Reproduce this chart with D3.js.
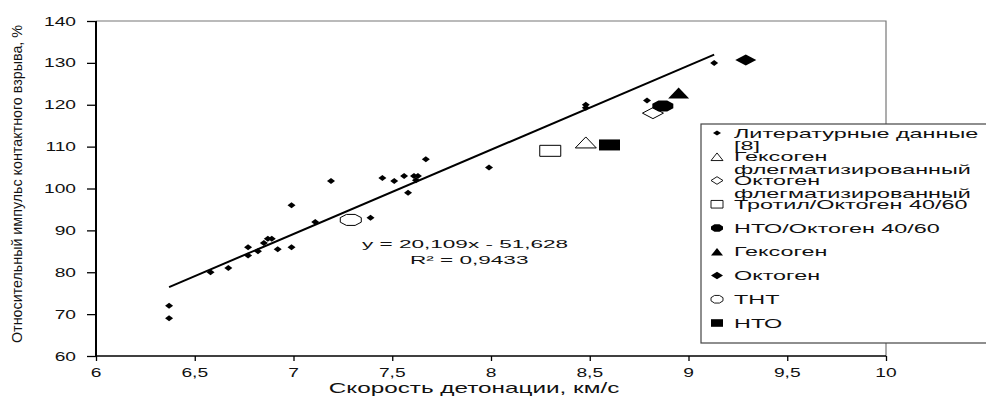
<!DOCTYPE html>
<html>
<head>
<meta charset="utf-8">
<script src="https://cdn.jsdelivr.net/npm/d3@7"></script>
<style>
  body { margin: 0; background: #fff; }
  svg { display: block; }
  text { font-family: "Liberation Sans", Arial, sans-serif; fill: #111; }
</style>
</head>
<body>
<svg id="chart" width="986" height="399"></svg>
<script>
// literature data [8]
const litX = [6.37, 6.37, 6.58, 6.67, 6.77, 6.77, 6.82, 6.85, 6.87, 6.89, 6.92, 6.99, 6.99, 7.11, 7.19,
  7.39, 7.45, 7.51, 7.56, 7.58, 7.61, 7.62, 7.63, 7.67, 7.99, 8.48, 8.48, 8.79, 9.13];
const litY = [72, 69, 80, 81, 86, 84, 85, 87, 88, 88, 85.5, 86, 96, 92, 101.8,
  93, 102.5, 101.8, 103, 99, 103, 102, 103, 107, 105, 120, 119.3, 121, 130];

// measured explosives
const expNames = ["Гексоген флегматизированный", "Октоген флегматизированный", "Тротил/Октоген 40/60",
  "НТО/Октоген 40/60", "Гексоген", "Октоген", "ТНТ", "НТО"];
const expX = [8.48, 8.82, 8.30, 8.87, 8.95, 9.29, 7.29, 8.60];
const expY = [111, 118, 109, 119.7, 122.8, 130.7, 92.5, 110.4];
const expShape = ["triangle", "diamond", "square", "circle", "triangle", "diamond", "circle", "square"];
const expFilled = [false, false, false, true, true, true, false, true];

// trend line y = 20,109x - 51,628
const slope = 20.109, intercept = -51.628, r2 = 0.9433;

const xTicks = [6, 6.5, 7, 7.5, 8, 8.5, 9, 9.5, 10];
const yTicks = [60, 70, 80, 90, 100, 110, 120, 130, 140];

const legendLines = [
  ["Литературные данные", "[8]"],
  ["Гексоген", "флегматизированный"],
  ["Октоген", "флегматизированный"],
  ["Тротил/Октоген 40/60"],
  ["НТО/Октоген 40/60"],
  ["Гексоген"],
  ["Октоген"],
  ["ТНТ"],
  ["НТО"]
];

const svg = d3.select("#chart");
const pLeft = 96, pRight = 886, pTop = 21, pBottom = 356;

const x = d3.scaleLinear().domain([6, 10]).range([pLeft, pRight]);
const y = d3.scaleLinear().domain([60, 140]).range([pBottom, pTop]);

// stretched text helper (the source figure is wide-stretched)
function stext(g, tx, ty, str, size, sx, anchor) {
  return g.append("text")
    .attr("transform", `translate(${tx},${ty}) scale(${sx},1)`)
    .attr("font-size", size)
    .attr("text-anchor", anchor || "start")
    .text(str);
}

// marker path, w/h are half sizes
function marker(shape, w, h) {
  if (shape === "diamond") return `M0,${-h}L${w},0L0,${h}L${-w},0Z`;
  if (shape === "square") return `M${-w},${-h}H${w}V${h}H${-w}Z`;
  if (shape === "triangle") return `M0,${-h}L${w},${h}H${-w}Z`;
  // octagon-ish ellipse
  const pts = d3.range(8).map(i => {
    const a = Math.PI / 8 + i * Math.PI / 4;
    return [w * Math.cos(a) / Math.cos(Math.PI / 8), h * Math.sin(a) / Math.cos(Math.PI / 8)];
  });
  return "M" + pts.map(p => p.join(",")).join("L") + "Z";
}

// frame (top / right in gray)
svg.append("path")
  .attr("d", `M${pLeft},${pTop}H${pRight}V${pBottom}`)
  .attr("fill", "none")
  .attr("stroke", "#777")
  .attr("stroke-width", 1.2);

// axes
const yAxis = svg.append("g")
  .attr("transform", `translate(${pLeft},0)`)
  .call(d3.axisLeft(y).tickValues(yTicks).tickSize(9).tickFormat(""));
yAxis.select(".domain").attr("stroke-width", 2).attr("d", `M0,${pTop}V${pBottom}`);
yAxis.selectAll(".tick line").attr("stroke-width", 1.3);

const xAxis = svg.append("g")
  .attr("transform", `translate(0,${pBottom})`)
  .call(d3.axisBottom(x).tickValues(xTicks).tickSize(5).tickFormat(""));
xAxis.select(".domain").attr("stroke-width", 1.6).attr("d", `M${pLeft},0H${pRight}`);
xAxis.selectAll(".tick line").attr("stroke-width", 1.3);

const labels = svg.append("g");
yTicks.forEach(v => stext(labels, 76, y(v) + 4.5, v, 12, 1.6, "end"));
xTicks.forEach(v => stext(labels, x(v), 377, String(v).replace(".", ","), 12, 1.6, "middle"));

// axis titles
stext(labels, 474, 393, "Скорость детонации, км/с", 15, 1.62, "middle");
labels.append("text")
  .attr("transform", `translate(22,184) rotate(-90)`)
  .attr("font-size", 15)
  .attr("text-anchor", "middle")
  .attr("textLength", 318)
  .attr("lengthAdjust", "spacingAndGlyphs")
  .text("Относительный импульс контактного взрыва, %");

// trend line
const tx = d3.extent(litX);
svg.append("line")
  .attr("x1", x(tx[0])).attr("y1", y(slope * tx[0] + intercept))
  .attr("x2", x(tx[1])).attr("y2", y(slope * tx[1] + intercept))
  .attr("stroke", "#000")
  .attr("stroke-width", 2);

// equation
stext(labels, 362, 248, "y = 20,109x - 51,628", 11, 2.05);
stext(labels, 410, 264, "R² = " + String(r2).replace(".", ","), 11, 2.05);

// literature points
svg.append("g").selectAll("path")
  .data(litX)
  .join("path")
  .attr("transform", (d, i) => `translate(${x(d)},${y(litY[i])})`)
  .attr("d", marker("diamond", 4, 3))
  .attr("fill", "#000");

// explosives
svg.append("g").selectAll("path")
  .data(expX)
  .join("path")
  .attr("transform", (d, i) => `translate(${x(d)},${y(expY[i])})`)
  .attr("d", (d, i) => marker(expShape[i], 10.5, 5.5))
  .attr("fill", (d, i) => expFilled[i] ? "#000" : "#fff")
  .attr("stroke", "#000")
  .attr("stroke-width", (d, i) => expFilled[i] ? 0 : 1);

// legend
const lg = svg.append("g");
lg.append("rect")
  .attr("x", 701).attr("y", 124)
  .attr("width", 300).attr("height", 219)
  .attr("fill", "#fff")
  .attr("stroke", "#444")
  .attr("stroke-width", 1.2);

const legendShapes = ["diamond"].concat(expShape);
const legendFilled = [true].concat(expFilled);
legendLines.forEach((lines, i) => {
  const cy = 133 + i * 23.75;
  const small = i === 0;
  lg.append("path")
    .attr("transform", `translate(717,${cy})`)
    .attr("d", marker(legendShapes[i], small ? 4 : 6, small ? 2.6 : 3.8))
    .attr("fill", legendFilled[i] ? "#000" : "#fff")
    .attr("stroke", "#000")
    .attr("stroke-width", legendFilled[i] ? 0 : 0.9);
  lines.forEach((t, j) => stext(lg, 734, cy + 4.5 + j * 12.5, t, 12, 1.95));
});
</script>
</body>
</html>
